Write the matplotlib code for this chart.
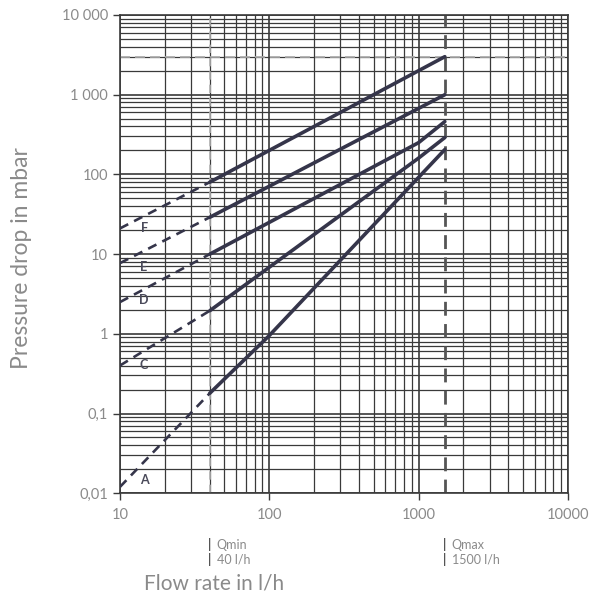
import matplotlib
matplotlib.use('Agg')
import matplotlib.pyplot as plt
from matplotlib.ticker import FixedLocator, LogLocator, NullFormatter

# curve values (flow in l/h, pressure drop in mbar)
flow_a = [10, 40, 100, 1500]
drop_a = [0.012, 0.18, 0.95, 205]
flow_c = [10, 40, 1000, 1500]
drop_c = [0.4, 1.95, 160, 290]
flow_d = [10, 40, 1000, 1500]
drop_d = [2.5, 10, 250, 460]
flow_e = [10, 40, 1500]
drop_e = [7.7, 29, 1000]
flow_f = [10, 40, 1500]
drop_f = [21, 80, 3000]

curve_names = ['A', 'C', 'D', 'E', 'F']
label_y = [0.0145, 0.41, 2.65, 6.9, 21.5]

x_ticks = [10, 100, 1000, 10000]
x_tick_labels = ['10', '100', '1000', '10000']
y_ticks = [0.01, 0.1, 1, 10, 100, 1000, 10000]
y_tick_labels = ['0,01', '0,1', '1', '10', '100', '1 000', '10 000']

q_min = 40
q_max = 1500
limit_drop = 3000

plt.rcParams['font.family'] = ['Lato', 'DejaVu Sans']

line_col = '#35354a'
grid_col = '#3a3a3a'
text_col = '#8a8a8a'

fig = plt.figure(figsize=(6.06, 6.0), dpi=100)
ax = fig.add_axes([0.198, 0.178, 0.739, 0.797])
ax.set_xscale('log')
ax.set_yscale('log')
ax.set_xlim(10, 10000)
ax.set_ylim(0.01, 10000)

# grid
ax.xaxis.set_minor_locator(LogLocator(base=10, subs=range(2, 10)))
ax.yaxis.set_minor_locator(LogLocator(base=10, subs=range(2, 10)))
ax.xaxis.set_minor_formatter(NullFormatter())
ax.yaxis.set_minor_formatter(NullFormatter())
ax.grid(which='major', color=grid_col, lw=1.2)
ax.grid(which='minor', color=grid_col, lw=0.9)
ax.set_axisbelow(True)

# limit lines
ax.axvline(q_min, color='#b0b0b0', lw=1.2, ls=(0, (5, 3)), zorder=2)
ax.axvline(q_max, color='#555555', lw=2.0, ls=(0, (5, 3)), zorder=2)
ax.axhline(limit_drop, color='#aaaaaa', lw=1.2, ls=(0, (6, 3)), zorder=2)

# curves: dashed below Qmin, solid above
for fl, dr in [(flow_a, drop_a), (flow_c, drop_c), (flow_d, drop_d),
               (flow_e, drop_e), (flow_f, drop_f)]:
    ax.plot(fl[:2], dr[:2], color=line_col, lw=1.9, ls=(0, (3.5, 2.5)), zorder=3)
    ax.plot(fl[1:], dr[1:], color=line_col, lw=2.6, solid_capstyle='round', zorder=3)

for name, yy in zip(curve_names, label_y):
    ax.text(14.5, yy, name, color='#4a4a5a', fontsize=9, fontweight='bold',
            ha='center', va='center', zorder=4)

ax.xaxis.set_major_locator(FixedLocator(x_ticks))
ax.set_xticklabels(x_tick_labels)
ax.yaxis.set_major_locator(FixedLocator(y_ticks))
ax.set_yticklabels(y_tick_labels)
ax.tick_params(axis='both', which='major', colors=grid_col, labelcolor=text_col,
               labelsize=10.5, length=5, width=1)
ax.tick_params(axis='both', which='minor', length=0)
ax.tick_params(axis='x', pad=6)
for sp in ax.spines.values():
    sp.set_color(grid_col)
    sp.set_linewidth(1.2)

# Qmin / Qmax notes below the axis
for q, lines in [(q_min, ['Qmin', '40 l/h']), (q_max, ['Qmax', '1500 l/h'])]:
    for i, t in enumerate(lines):
        ax.annotate('|', xy=(q, 0.01), xycoords='data', xytext=(0, -37 - 11 * i),
                    textcoords='offset points', ha='center', va='center',
                    color='#555555', fontsize=9, fontweight='bold')
        ax.annotate(t, xy=(q, 0.01), xycoords='data', xytext=(5, -37 - 11 * i),
                    textcoords='offset points', ha='left', va='center',
                    color=text_col, fontsize=9)

fig.text(0.238, 0.027, 'Flow rate in l/h', color=text_col, fontsize=15, ha='left', va='center')
fig.text(0.036, 0.57, 'Pressure drop in mbar', color=text_col, fontsize=16.5,
         rotation=90, ha='center', va='center')

plt.savefig('out.png', dpi=100)
